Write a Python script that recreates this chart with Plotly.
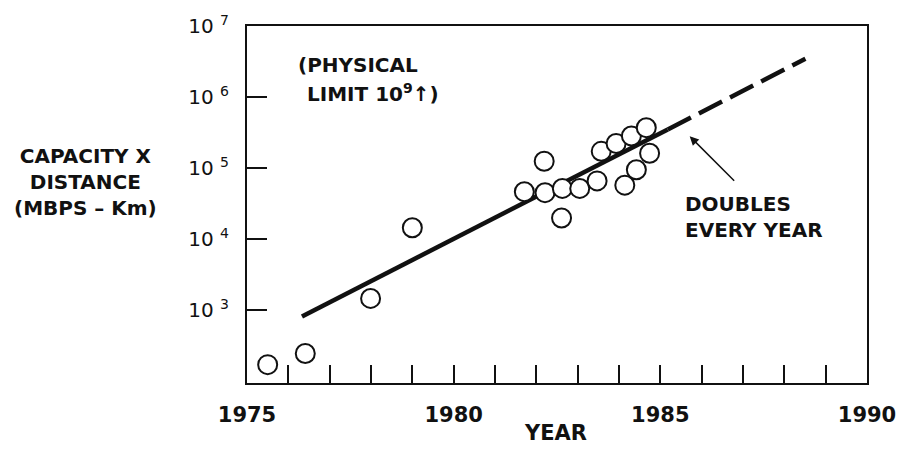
import plotly.graph_objects as go

# Measured data points (year, capacity x distance in Mbps-km)
years = [1975.50, 1976.41, 1977.99, 1979.00,
         1981.71, 1982.19, 1982.21, 1982.61, 1982.63, 1983.05, 1983.47,
         1983.57, 1983.93, 1984.14, 1984.30, 1984.42, 1984.66, 1984.74]
capacity = [172, 247, 1470, 14500,
            46700, 125000, 45200, 19900, 51900, 51900, 66200,
            172600, 222800, 57600, 283800, 95000, 370700, 161800]

# Trend line (doubles every year)
trend_years_solid = [1976.33, 1985.18]
trend_solid = [820, 351000]
trend_years_dash = [1985.18, 1988.51]
trend_dash = [351000, 3460000]

x_tick_years = [1975, 1980, 1985, 1990]
x_tick_text = ["1975", "1980", "1985", "1990"]
y_tick_vals = [1e3, 1e4, 1e5, 1e6, 1e7]
y_tick_text = ["10 <sup>3</sup>", "10 <sup>4</sup>", "10 <sup>5</sup>",
               "10 <sup>6</sup>", "10 <sup>7</sup>"]

FONT = "DejaVu Sans"
INK = "#111111"

fig = go.Figure()
fig.add_trace(go.Scatter(x=trend_years_solid, y=trend_solid, mode="lines",
                         line=dict(color=INK, width=4.5), showlegend=False))
fig.add_trace(go.Scatter(x=trend_years_dash, y=trend_dash, mode="lines",
                         line=dict(color=INK, width=4.5, dash="26px,9px"),
                         showlegend=False))
fig.add_trace(go.Scatter(x=years, y=capacity, mode="markers",
                         marker=dict(symbol="circle", size=19, color="white",
                                     line=dict(color=INK, width=2)),
                         showlegend=False))

fig.update_layout(
    width=908, height=450,
    margin=dict(l=247, r=38, t=20, b=67),
    paper_bgcolor="white", plot_bgcolor="white",
    font=dict(family=FONT, color=INK),
)
fig.update_xaxes(
    range=[1975, 1990], tickvals=x_tick_years, ticktext=x_tick_text,
    ticks="inside", ticklen=18, tickwidth=1.5, tickcolor=INK,
    minor=dict(dtick=1, tick0=1975, ticks="inside", ticklen=18, tickwidth=1.5,
               tickcolor=INK, showgrid=False),
    showline=True, linewidth=2, linecolor=INK, mirror=True,
    showgrid=False, zeroline=False,
    tickfont=dict(family=FONT, size=21, weight="bold", color=INK),
    ticklabelstandoff=12,
)
fig.update_yaxes(
    type="log", range=[1.977, 7], tickvals=y_tick_vals, ticktext=y_tick_text,
    ticks="inside", ticklen=20, tickwidth=1.5, tickcolor=INK,
    showline=True, linewidth=2, linecolor=INK, mirror=True,
    showgrid=False, zeroline=False,
    tickfont=dict(family=FONT, size=20, color=INK),
    ticklabelstandoff=12,
)

bold = dict(family=FONT, size=20, weight="bold", color=INK)
fig.add_annotation(xref="paper", yref="paper", x=-0.261, y=0.564,
                   text="CAPACITY X<br>DISTANCE<br>(MBPS – Km)",
                   showarrow=False, align="center", xanchor="center",
                   yanchor="middle", font=bold)
fig.add_annotation(xref="paper", yref="paper", x=0.497, y=-0.139,
                   text="YEAR", showarrow=False, xanchor="center",
                   yanchor="middle", font=dict(family=FONT, size=21, weight="bold", color=INK))
fig.add_annotation(x=1976.19, y=6.446, text="(PHYSICAL", showarrow=False,
                   xanchor="left", yanchor="middle", font=bold)
fig.add_annotation(x=1976.41, y=6.058, text="LIMIT 10<sup>9</sup>↑)",
                   showarrow=False, xanchor="left", yanchor="middle", font=bold)
fig.add_annotation(x=1985.54, y=4.313, text="DOUBLES<br>EVERY YEAR",
                   showarrow=False, xanchor="left", yanchor="middle",
                   align="left", font=bold)
fig.add_annotation(x=1985.71, y=5.449, text="", showarrow=True,
                   ax=46, ay=46, arrowhead=2, arrowsize=1.2, arrowwidth=1.5,
                   arrowcolor=INK)

fig.write_html("out.html")
